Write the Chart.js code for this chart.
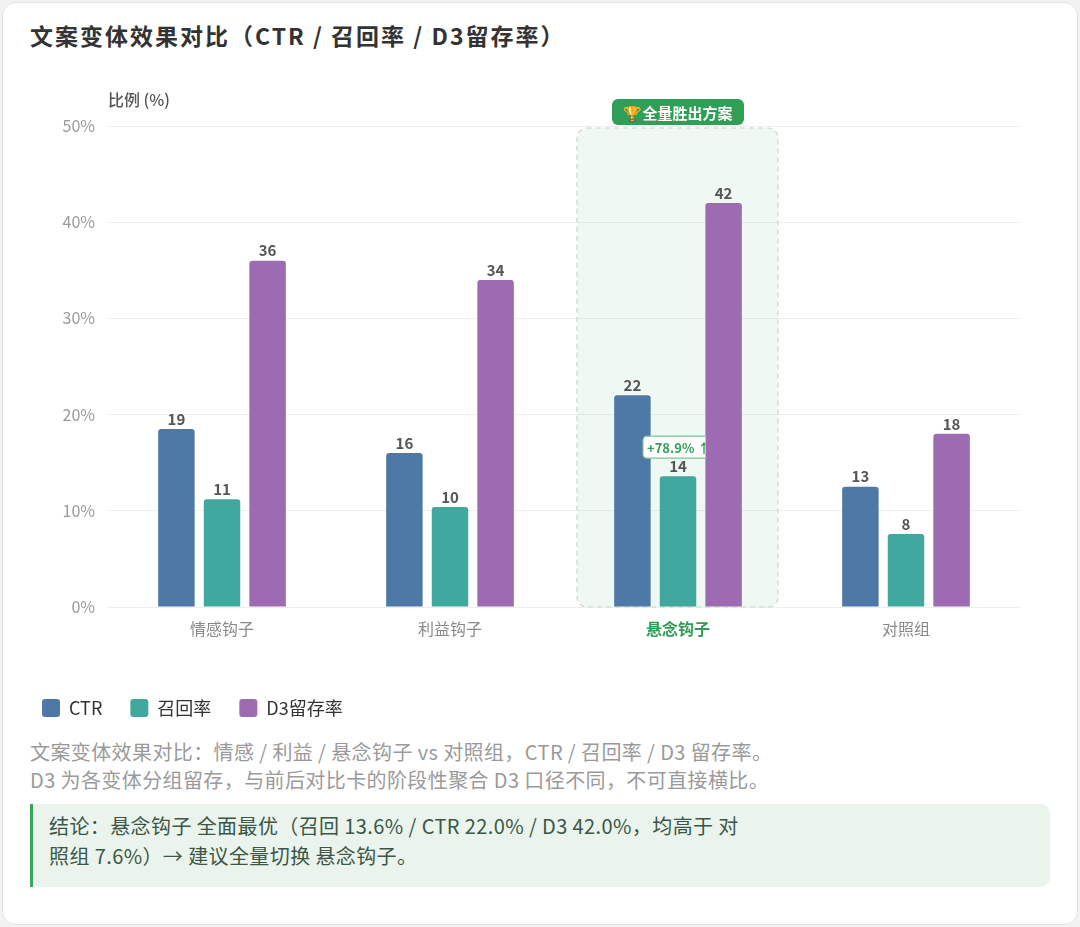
<!DOCTYPE html>
<html>
<head>
<meta charset="utf-8">
<script src="https://cdn.jsdelivr.net/npm/chart.js@4.4.1/dist/chart.umd.min.js"></script>
<style>
  html, body { margin: 0; padding: 0; background: #f3f3f3; }
  body { width: 1080px; height: 927px; position: relative; font-family: "Noto Sans CJK SC", "Noto Sans", sans-serif; overflow: hidden; }
  .card { position: absolute; left: 2px; top: 2px; width: 1074px; height: 921px; background: #fff; border: 1px solid #e4e4e4; border-radius: 14px; }
  .title { position: absolute; left: 30px; top: 20px; font-size: 23px; font-weight: 700; color: #333; line-height: 30px; letter-spacing: 2px; }
  .wrap { position: absolute; left: 30px; top: 85px; width: 1020px; height: 642px; }
  .note { position: absolute; left: 30px; top: 738px; font-size: 20px; line-height: 28px; color: #9a9a9a; letter-spacing: 0.4px; }
  .concl { position: absolute; left: 30px; top: 804px; width: 1020px; height: 83px; box-sizing: border-box; background: #eaf4ed; border-left: 3px solid #3aa55c; border-radius: 0 10px 10px 0; padding: 7px 18px 0 16px; font-size: 20px; line-height: 30px; color: #3b5646; letter-spacing: 0.4px; }
</style>
</head>
<body>
<div class="card"></div>
<div class="title">文案变体效果对比（CTR / 召回率 / D3留存率）</div>
<div class="wrap"><canvas id="myChart"></canvas></div>
<div class="note">文案变体效果对比：情感 / 利益 / 悬念钩子 vs 对照组，CTR / 召回率 / D3 留存率。<br>D3 为各变体分组留存，与前后对比卡的阶段性聚合 D3 口径不同，不可直接横比。</div>
<div class="concl">结论：悬念钩子 全面最优（召回 13.6% / CTR 22.0% / D3 42.0%，均高于 对<br>照组 7.6%）→ 建议全量切换 悬念钩子。</div>
<script>
// 数据
var categories = ['情感钩子', '利益钩子', '悬念钩子', '对照组'];
var ctrValues = [18.5, 16.0, 22.0, 12.5];
var recallValues = [11.2, 10.4, 13.6, 7.6];
var d3Values = [36, 34, 42, 18];
var yTicks = [0, 10, 20, 30, 40, 50];
var winnerIndex = 2;
var baselineIndex = 3;

var green = '#2f9e57';

// 胜出方案的高亮框
var highlightBox = {
  id: 'highlightBox',
  beforeDatasetsDraw(chart) {
    var ctx = chart.ctx;
    var x = chart.scales.x, y = chart.scales.y;
    var cx = x.getPixelForValue(winnerIndex);
    var left = cx - 101, right = cx + 100;
    var top = y.getPixelForValue(50) + 2, bottom = y.getPixelForValue(0);
    ctx.save();
    ctx.beginPath();
    ctx.roundRect(left, top, right - left, bottom - top, 10);
    ctx.fillStyle = 'rgba(47,158,87,0.07)';
    ctx.fill();
    ctx.setLineDash([5, 4]);
    ctx.lineWidth = 1.2;
    ctx.strokeStyle = '#bcdcc6';
    ctx.stroke();
    ctx.setLineDash([]);
    // 标签
    var pw = 132, ph = 26;
    ctx.beginPath();
    ctx.roundRect(cx - pw / 2, top - 29, pw, ph, 6);
    ctx.fillStyle = green;
    ctx.fill();
    ctx.fillStyle = '#fff';
    ctx.font = 'bold 15px "Noto Sans CJK SC"';
    ctx.textAlign = 'center';
    ctx.textBaseline = 'middle';
    ctx.fillText('🏆全量胜出方案', cx, top - 29 + ph / 2 + 1);
    ctx.restore();
  }
};

// 柱顶数值 + 提升徽标
var valueLabels = {
  id: 'valueLabels',
  afterDatasetsDraw(chart) {
    var ctx = chart.ctx;
    ctx.save();
    ctx.font = 'bold 15px "Noto Sans CJK SC"';
    ctx.fillStyle = '#555';
    ctx.textAlign = 'center';
    ctx.textBaseline = 'middle';
    chart.data.datasets.forEach(function (ds, di) {
      chart.getDatasetMeta(di).data.forEach(function (bar, i) {
        ctx.fillText(String(Math.round(ds.data[i])), bar.x, bar.y - 10);
      });
    });
    // +78.9% 徽标
    var rBar = chart.getDatasetMeta(1).data[winnerIndex];
    var dBar = chart.getDatasetMeta(2).data[winnerIndex];
    var lift = (recallValues[winnerIndex] / recallValues[baselineIndex] - 1) * 100;
    var bw = 68, bh = 22;
    var bx = rBar.x - 35, by = rBar.y - 40;
    ctx.beginPath();
    ctx.rect(0, 0, dBar.x - dBar.width / 2, chart.height);
    ctx.clip();
    ctx.beginPath();
    ctx.roundRect(bx, by, bw, bh, 4);
    ctx.fillStyle = '#fff';
    ctx.fill();
    ctx.lineWidth = 1.2;
    ctx.strokeStyle = '#7cc595';
    ctx.stroke();
    ctx.fillStyle = green;
    ctx.font = 'bold 13px "Noto Sans CJK SC"';
    ctx.textAlign = 'left';
    ctx.fillText('+' + lift.toFixed(1) + '% ↑', bx + 4, by + bh / 2 + 1);
    ctx.restore();
  }
};

var ctx = document.getElementById('myChart').getContext('2d');
var myChart = new Chart(ctx, {
  type: 'bar',
  data: {
    labels: categories,
    datasets: [
      { label: 'CTR', data: ctrValues, backgroundColor: '#4e79a7', borderRadius: 3 },
      { label: '召回率', data: recallValues, backgroundColor: '#40a89e', borderRadius: 3 },
      { label: 'D3留存率', data: d3Values, backgroundColor: '#9c6bb2', borderRadius: 3 }
    ]
  },
  options: {
    responsive: true,
    maintainAspectRatio: false,
    animation: false,
    layout: { padding: { top: 41, right: 30, left: -16, bottom: 0 } },
    datasets: { bar: { categoryPercentage: 0.6, barPercentage: 0.8 } },
    scales: {
      x: {
        grid: { display: false },
        border: { display: false },
        ticks: {
          padding: 4,
          font: function (c) { return { size: 16, family: 'Noto Sans CJK SC', weight: c.index === winnerIndex ? 'bold' : 'normal' }; },
          color: function (c) { return c.index === winnerIndex ? green : '#8a8a8a'; }
        },
        afterFit: function (s) { s.height = 64; }
      },
      y: {
        min: 0,
        max: 50,
        afterBuildTicks: function (s) { s.ticks = yTicks.map(function (v) { return { value: v }; }); },
        grid: { color: '#eeeeee', drawTicks: false },
        border: { display: false },
        ticks: {
          padding: 13,
          color: '#9a9a9a',
          font: { size: 16, family: 'Noto Sans CJK SC' },
          callback: function (v) { return v + '%'; }
        },
        afterFit: function (s) { s.width = 94; }
      }
    },
    plugins: {
      legend: {
        position: 'bottom',
        align: 'start',
        labels: {
          boxWidth: 18,
          boxHeight: 18,
          useBorderRadius: true,
          borderRadius: 3,
          padding: 28,
          color: '#333',
          font: { size: 18, family: 'Noto Sans CJK SC' }
        }
      },
      tooltip: { enabled: false }
    }
  },
  plugins: [highlightBox, valueLabels, {
    id: 'yTitle',
    afterDraw(chart) {
      var c = chart.ctx;
      c.save();
      c.font = '500 16px "Noto Sans CJK SC"';
      c.fillStyle = '#555';
      c.textAlign = 'left';
      c.textBaseline = 'middle';
      c.fillText('比例 (%)', chart.chartArea.left, chart.chartArea.top - 26);
      c.restore();
    }
  }]
});
</script>
</body>
</html>
